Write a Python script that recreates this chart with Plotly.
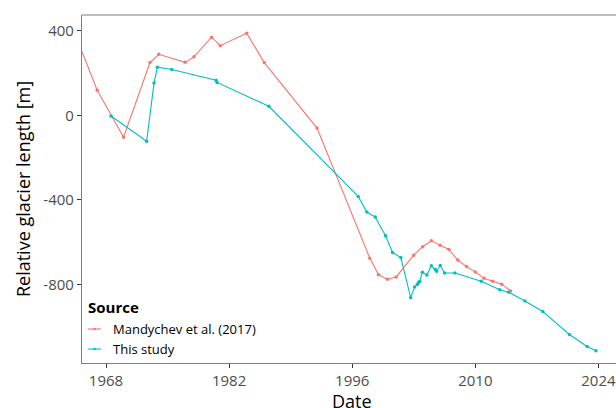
import plotly.graph_objects as go

# Glacier front position relative to reference, by source
years_mandychev = [1965.0, 1967, 1970, 1973, 1974, 1977, 1978, 1980, 1981, 1984, 1986, 1992,
                   1998, 1999, 2000, 2001, 2003, 2004, 2005, 2006, 2007, 2008, 2009, 2010,
                   2011, 2012, 2013, 2014]
length_mandychev = [329, 119, -103, 250, 289, 251, 277, 370, 330, 389, 250, -60,
                    -675, -754, -775, -764, -661, -621, -593, -614, -634, -684, -715, -740,
                    -770, -784, -798, -830]

years_study = [1968.57, 1972.62, 1973.46, 1973.84, 1975.48, 1980.52, 1980.63, 1986.52,
               1996.68, 1997.66, 1998.62, 1999.79, 2000.58, 2001.53, 2002.65, 2003.09,
               2003.4, 2003.55, 2003.67, 2003.98, 2004.49, 2004.99, 2005.45, 2005.6,
               2006.01, 2006.5, 2007.68, 2010.68, 2012.77, 2013.8, 2015.64, 2017.67,
               2020.7, 2022.71, 2023.72]
length_study = [-3, -122, 153, 228, 217, 166, 156, 43,
                -383, -457, -481, -569, -648, -672, -862, -812,
                -800, -790, -786, -742, -755, -711, -729, -737,
                -710, -745, -745, -784, -825, -836, -878, -927,
                -1036, -1093, -1113]

x_ticks = [1968, 1982, 1996, 2010, 2024]
y_ticks = [400, 0, -400, -800]
y_tick_text = ["400", "0", "-400", "-800"]

RED = "#F8766D"
CYAN = "#00BFC4"
FONT = "Open Sans"

fig = go.Figure()
fig.add_trace(go.Scatter(
    x=years_mandychev, y=length_mandychev, mode="lines+markers",
    name="Mandychev et al. (2017)",
    line=dict(color=RED, width=1.1), marker=dict(color=RED, size=3.5),
    showlegend=False, cliponaxis=True))
fig.add_trace(go.Scatter(
    x=years_study, y=length_study, mode="lines+markers",
    name="This study",
    line=dict(color=CYAN, width=1.1), marker=dict(color=CYAN, size=3.5),
    showlegend=False, cliponaxis=True))

axis_common = dict(
    showgrid=False, zeroline=False, showline=True, linecolor="#7f7f7f", linewidth=1.2,
    ticks="outside", ticklen=4, tickwidth=1.1, tickcolor="#333333",
    tickfont=dict(family=FONT, size=15, color="#4d4d4d"),
)

fig.update_layout(
    width=616, height=408,
    margin=dict(l=82, r=0, t=15, b=45),
    paper_bgcolor="white", plot_bgcolor="white",
    font=dict(family=FONT),
    xaxis=dict(range=[1965.27, 2026.0], tickvals=x_ticks, **axis_common),
    yaxis=dict(range=[-1171, 475], tickvals=y_ticks, ticktext=y_tick_text,
               title=dict(text="Relative glacier length [m]", font=dict(family=FONT, size=18, color="black"), standoff=8),
               **axis_common),
)

# top border of the panel
fig.add_shape(type="line", xref="paper", yref="paper", x0=0, x1=1, y0=1, y1=1,
              line=dict(color="#7f7f7f", width=1.2))


def px_x(p):
    return (p - 82) / (616 - 82)


def px_y(p):
    return (363 - p) / (363 - 15)


# x-axis title, sitting low under the tick labels
fig.add_annotation(x=px_x(352), y=px_y(400.5), xref="paper", yref="paper",
                   text="Date", showarrow=False, xanchor="center", yanchor="middle",
                   font=dict(family=FONT, size=18, color="black"))

# legend drawn inside the panel, bottom-left
fig.add_annotation(x=px_x(86), y=px_y(307), xref="paper", yref="paper",
                   text="<b>Source</b>", showarrow=False, xanchor="left", yanchor="middle",
                   font=dict(family=FONT, size=15, color="black"))
for name, col, yy in [("Mandychev et al. (2017)", RED, 329), ("This study", CYAN, 349)]:
    fig.add_shape(type="line", xref="paper", yref="paper",
                  x0=px_x(88), x1=px_x(101), y0=px_y(yy), y1=px_y(yy),
                  line=dict(color=col, width=1.1))
    fig.add_shape(type="circle", xref="paper", yref="paper",
                  x0=px_x(93.2), x1=px_x(95.8), y0=px_y(yy + 1.3), y1=px_y(yy - 1.3),
                  fillcolor=col, line=dict(width=0))
    fig.add_annotation(x=px_x(111), y=px_y(yy), xref="paper", yref="paper",
                       text=name, showarrow=False, xanchor="left", yanchor="middle",
                       font=dict(family=FONT, size=13, color="black"))

fig.write_html("out.html")
